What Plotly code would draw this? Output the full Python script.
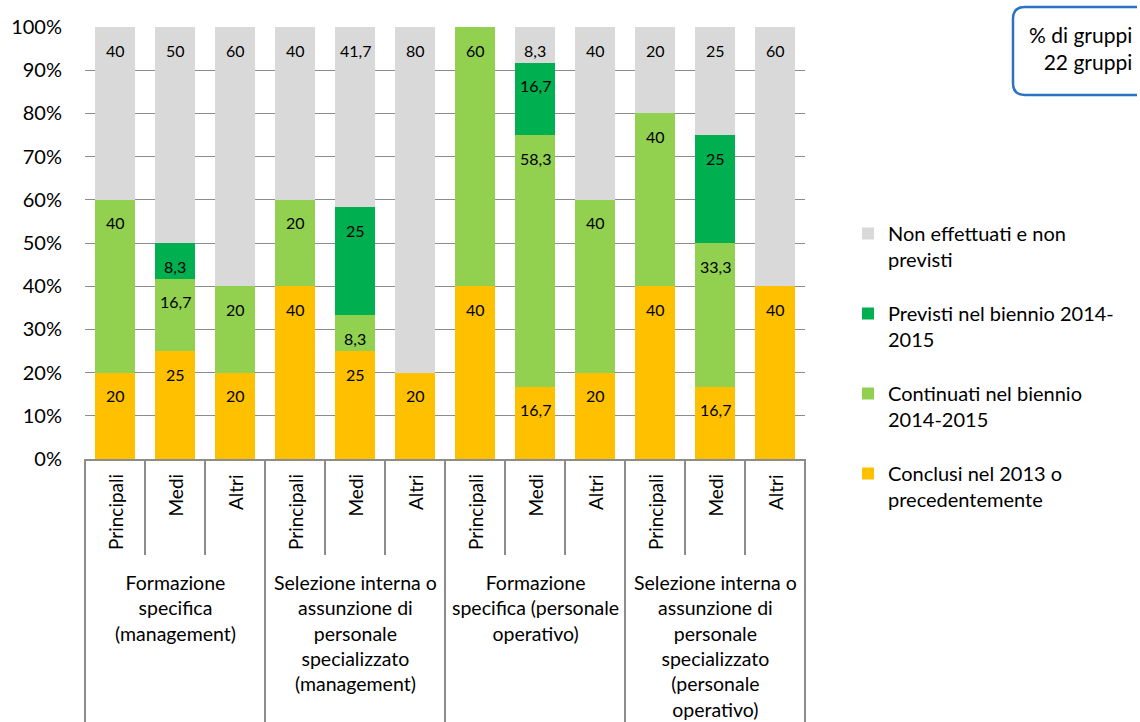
import plotly.graph_objects as go

# --- data -------------------------------------------------------------
groups = [
    "Formazione<br>specifica<br>(management)",
    "Selezione interna o<br>assunzione di<br>personale<br>specializzato<br>(management)",
    "Formazione<br>specifica (personale<br>operativo)",
    "Selezione interna o<br>assunzione di<br>personale<br>specializzato<br>(personale<br>operativo)",
]
sizes = ["Principali", "Medi", "Altri"]

conclusi = [20, 25, 20, 40, 25, 20, 40, 16.7, 20, 40, 16.7, 40]
continuati = [40, 16.7, 20, 20, 8.3, 0, 60, 58.3, 40, 40, 33.3, 0]
previsti = [0, 8.3, 0, 0, 25, 0, 0, 16.7, 0, 0, 25, 0]
non_effettuati = [40, 50, 60, 40, 41.7, 80, 0, 8.3, 40, 20, 25, 60]

series = [
    ("Conclusi nel 2013 o<br>precedentemente", conclusi, "#FFC000"),
    ("Continuati nel biennio<br>2014-2015", continuati, "#92D050"),
    ("Previsti nel biennio 2014-<br>2015", previsti, "#00B050"),
    ("Non effettuati e non<br>previsti", non_effettuati, "#D9D9D9"),
]

y_ticks = list(range(0, 101, 10))
y_tick_text = [f"{v}%" for v in y_ticks]

FONT = "Lato"
GRID = "#8C8C8C"

# --- geometry of the figure (pixels) -----------------------------------
W, H = 1140, 722
ML, MR, MT, MB = 85, 335, 27, 263
PW, PH = W - ML - MR, H - MT - MB


def px_x(p):
    return (p - ML) / PW


def px_y(p):
    return (H - MB - p) / PH


n_bars = len(groups) * len(sizes)
x_idx = list(range(n_bars))


def fmt(v):
    return str(int(v)) if float(v).is_integer() else f"{v:.1f}".replace(".", ",")


fig = go.Figure()
for k, (name, vals, color) in enumerate(series):
    fig.add_trace(go.Bar(
        x=x_idx, y=vals, name=name, marker=dict(color=color, line=dict(width=0)),
        legendgroup=f"g{k}", legendrank=len(series) - k, hoverinfo="skip",
    ))

# value labels placed just inside the top of every non-empty segment
annotations = []
cum = [0.0] * n_bars
for name, vals, color in series:
    for i, v in enumerate(vals):
        cum[i] += v
        if v > 0:
            annotations.append(dict(
                x=i, y=cum[i], xref="x", yref="y", text=fmt(v), showarrow=False,
                yshift=-23, font=dict(family=FONT, size=16, color="#000000"),
            ))

# rotated size labels under each bar
for i in x_idx:
    annotations.append(dict(
        x=i, y=px_y(472), xref="x", yref="paper", text=sizes[i % len(sizes)],
        textangle=-90, showarrow=False, xanchor="center", yanchor="top",
        font=dict(family=FONT, size=19, color="#000000"),
    ))

# group labels
for g, label in enumerate(groups):
    annotations.append(dict(
        x=g * len(sizes) + (len(sizes) - 1) / 2, y=px_y(569), xref="x", yref="paper",
        text=label, showarrow=False, xanchor="center", yanchor="top", align="center",
        font=dict(family=FONT, size=19.5, color="#000000"),
    ))

# note box text
annotations.append(dict(
    x=px_x(1134), y=px_y(20), xref="paper", yref="paper",
    text="% di gruppi<br>22 gruppi", showarrow=False, xanchor="right", yanchor="top",
    align="right", font=dict(family=FONT, size=21, color="#000000"),
))

# category axis dividers
shapes = []
for b in range(n_bars + 1):
    x = b / n_bars
    long_line = b % len(sizes) == 0
    shapes.append(dict(
        type="line", xref="paper", yref="paper", x0=x, x1=x, y0=0,
        y1=px_y(722) if long_line else px_y(555),
        line=dict(color=GRID, width=2),
    ))

# note box: rounded on the left, open where it meets the right page edge
x0, x1 = px_x(1013), px_x(1137)
y0, y1 = px_y(7), px_y(95)
rx, ry = 12 / PW, 12 / PH
path = (
    f"M{x1},{y0} L{x0 + rx},{y0} Q{x0},{y0} {x0},{y0 - ry} "
    f"L{x0},{y1 + ry} Q{x0},{y1} {x0 + rx},{y1} L{x1},{y1}"
)
shapes.append(dict(type="path", xref="paper", yref="paper", path=path,
                   line=dict(color="#2B72C4", width=2.5)))

fig.update_layout(
    width=W, height=H,
    margin=dict(l=ML, r=MR, t=MT, b=MB),
    paper_bgcolor="white", plot_bgcolor="white",
    barmode="stack", bargap=1 / 3,
    font=dict(family=FONT, color="#000000"),
    showlegend=True,
    legend=dict(
        x=px_x(848), y=px_y(214), xanchor="left", yanchor="top",
        traceorder="grouped", tracegroupgap=25, valign="top",
        font=dict(family=FONT, size=20, color="#000000"),
        bgcolor="rgba(0,0,0,0)",
    ),
    xaxis=dict(
        range=[-0.5, n_bars - 0.5], showticklabels=False, showgrid=False,
        zeroline=False, showline=True, linecolor=GRID, linewidth=2, ticks="",
        fixedrange=True,
    ),
    yaxis=dict(
        range=[0, 100], tickmode="array", tickvals=y_ticks, ticktext=y_tick_text,
        showgrid=True, gridcolor=GRID, gridwidth=1.3, zeroline=False,
        showline=False, ticks="", ticklabelstandoff=22,
        tickfont=dict(family=FONT, size=20, color="#000000"), fixedrange=True,
    ),
    annotations=annotations,
    shapes=shapes,
)

fig.write_html("out.html")
